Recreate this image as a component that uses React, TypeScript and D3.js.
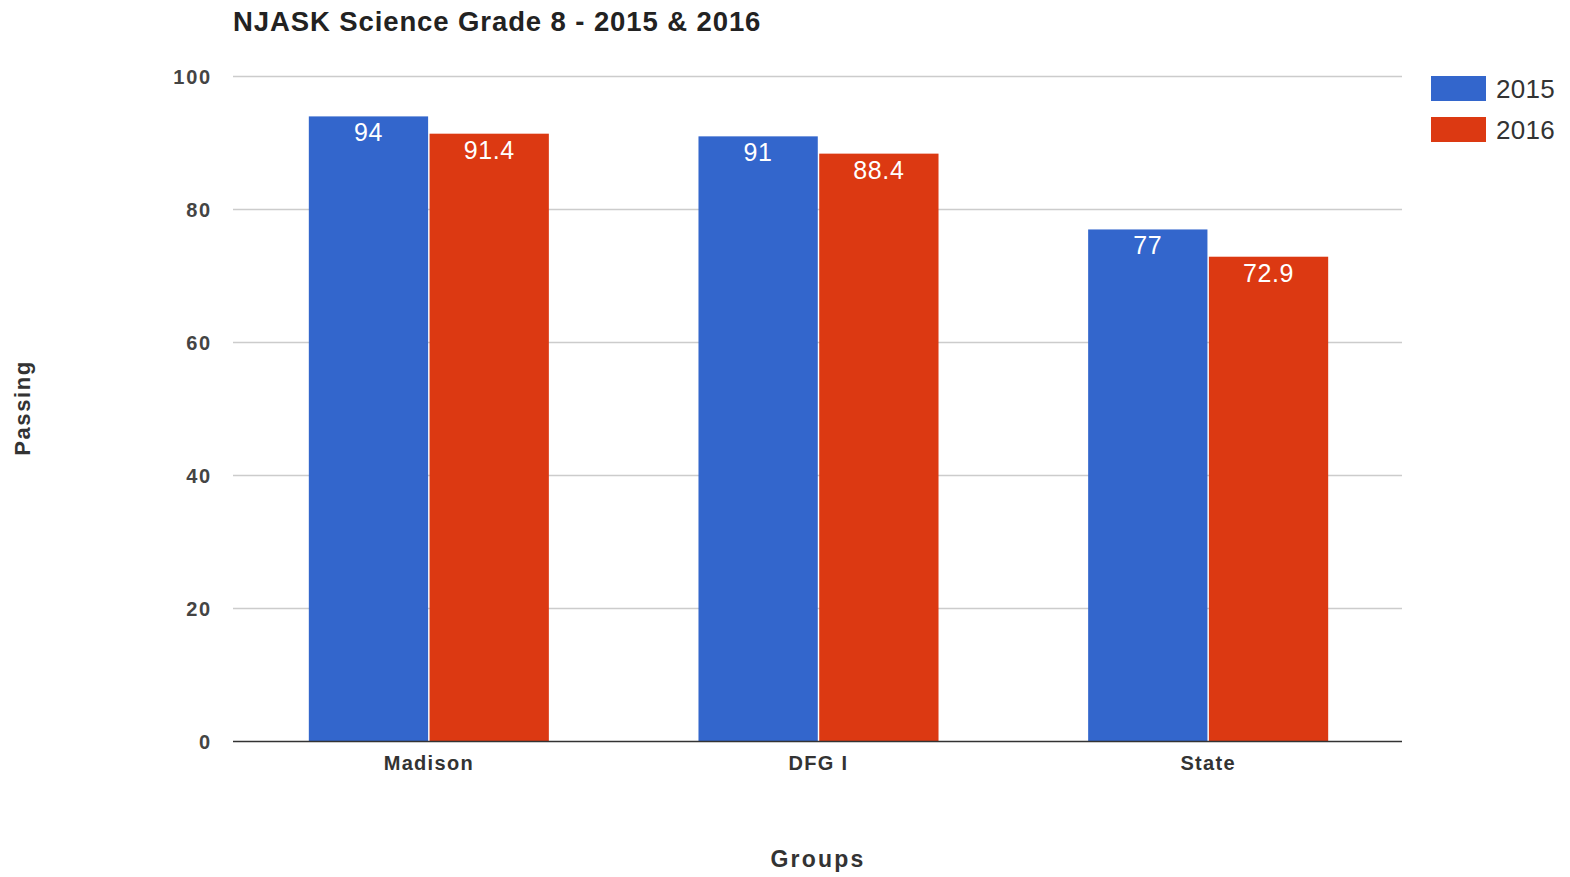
import React from "react";
import * as d3 from "d3";

const categories = ["Madison", "DFG I", "State"];
const series = ["2015", "2016"];
const values2015 = [94, 91, 77];
const values2016 = [91.4, 88.4, 72.9];
const yTicks = [0, 20, 40, 60, 80, 100];
const colors = ["#3366cc", "#dc3912"];

const W = 1570;
const H = 877;
const left = 233;
const right = 1402;
const top = 76.5;
const bottom = 741.5;

export default function App() {
  const x0 = d3.scaleBand<string>().domain(categories).range([left, right]).padding(0);
  const groupW = x0.bandwidth() * 0.616;
  const x1 = d3.scaleBand<string>().domain(series).range([0, groupW]).paddingInner(0.012);
  const y = d3.scaleLinear().domain([0, 100]).range([bottom, top]);
  const data = [values2015, values2016];
  const font = "'Liberation Sans', Arial, sans-serif";

  return (
    <svg width={W} height={H} style={{ position: "absolute", left: 0, top: 0, background: "#fff" }} fontFamily={font}>
      <text x={233} y={31} fontSize={27.5} fontWeight="bold" fill="#222" letterSpacing={0.9}>
        NJASK Science Grade 8 - 2015 &amp; 2016
      </text>
      {yTicks.map((t) => (
        <g key={t}>
          {t !== 0 && (
            <line x1={left} x2={right} y1={y(t)} y2={y(t)} stroke="#cccccc" strokeWidth={1.5} />
          )}
          <text x={212} y={y(t) + 7} textAnchor="end" fontSize={20} fontWeight="bold" fill="#444" letterSpacing={1.8}>
            {t}
          </text>
        </g>
      ))}
      {categories.map((c, ci) => {
        const gx = x0(c)! + (x0.bandwidth() - groupW) / 2 + 1;
        return (
          <g key={c}>
            {series.map((s, si) => {
              const v = data[si][ci];
              const bx = gx + x1(s)!;
              return (
                <g key={s}>
                  <rect x={bx} y={y(v)} width={x1.bandwidth()} height={y(0) - y(v)} fill={colors[si]} />
                  <text
                    x={bx + x1.bandwidth() / 2}
                    y={y(v) + 25}
                    textAnchor="middle"
                    fontSize={25}
                    fill="#ffffff"
                    letterSpacing={0.6}
                  >
                    {v}
                  </text>
                </g>
              );
            })}
            <text x={x0(c)! + x0.bandwidth() / 2 + 1} y={770} textAnchor="middle" fontSize={20} fontWeight="bold" fill="#333" letterSpacing={1.3}>
              {c}
            </text>
          </g>
        );
      })}
      <line x1={left} x2={right} y1={y(0)} y2={y(0)} stroke="#333" strokeWidth={1.5} />
      <text x={818} y={867} textAnchor="middle" fontSize={23} fontWeight="bold" fill="#333" letterSpacing={2.2}>
        Groups
      </text>
      <text
        transform={`translate(30,408) rotate(-90)`}
        textAnchor="middle"
        fontSize={22}
        fontWeight="bold"
        fill="#333"
        letterSpacing={1.6}
      >
        Passing
      </text>
      {series.map((s, i) => (
        <g key={s}>
          <rect x={1431} y={76 + i * 41} width={55} height={25} fill={colors[i]} />
          <text x={1496} y={98 + i * 41} fontSize={26} fill="#333" letterSpacing={0.3}>
            {s}
          </text>
        </g>
      ))}
    </svg>
  );
}
